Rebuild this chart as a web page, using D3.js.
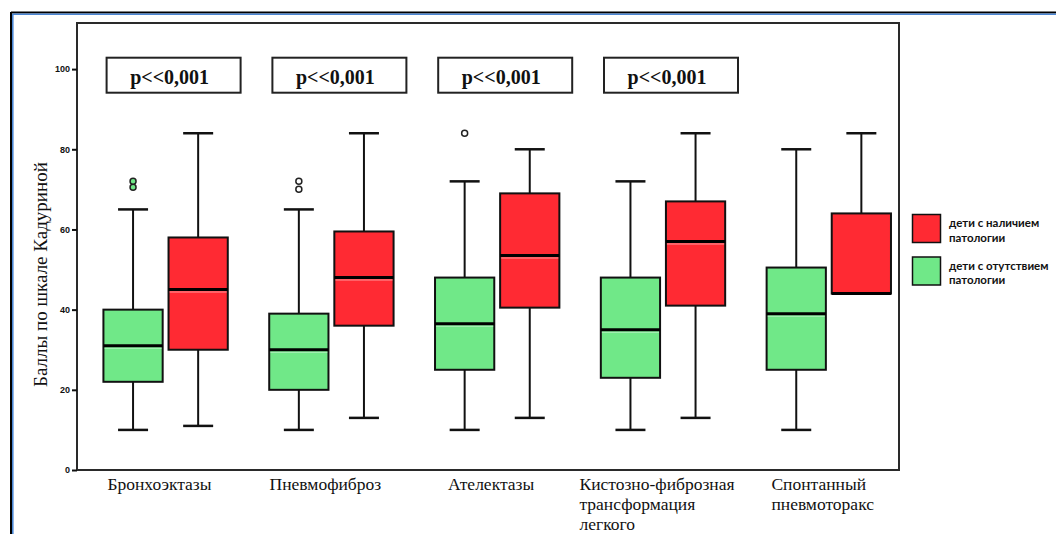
<!DOCTYPE html>
<html>
<head>
<meta charset="utf-8">
<script src="https://cdn.jsdelivr.net/npm/d3@7"></script>
<style>
  html, body { margin: 0; padding: 0; background: #fff; overflow: hidden; }
  svg { display: block; }
</style>
</head>
<body>
<svg id="chart" width="1056" height="534"></svg>
<script>
// ---- data ----
const categories = ["Бронхоэктазы", "Пневмофиброз", "Ателектазы",
  "Кистозно-фиброзная трансформация легкого", "Спонтанный пневмоторакс"];
const categoryLines = [
  ["Бронхоэктазы"],
  ["Пневмофиброз"],
  ["Ателектазы"],
  ["Кистозно-фиброзная", "трансформация", "легкого"],
  ["Спонтанный", "пневмоторакс"]
];
const seriesKeys = ["absent", "present"];
const legendLabels = {
  present: ["дети с наличием", "патологии"],
  absent: ["дети с отутствием", "патологии"]
};
// [min whisker, Q1, median, Q3, max whisker]
const absentStats = [
  [10, 22, 31, 40, 65],
  [10, 20, 30, 39, 65],
  [10, 25, 36.5, 48, 72],
  [10, 23, 35, 48, 72],
  [10, 25, 39, 50.5, 80]
];
const presentStats = [
  [11, 30, 45, 58, 84],
  [13, 36, 48, 59.5, 84],
  [13, 40.5, 53.5, 69, 80],
  [13, 41, 57, 67, 84],
  [44, 44, 44, 64, 84]
];
const absentOutliers = [[70.5, 72], [70, 72], [84], [], []];
const presentOutliers = [[], [], [], [], []];
const pLabels = ["p<<0,001", "p<<0,001", "p<<0,001", "p<<0,001", null];
const yTicks = [0, 20, 40, 60, 80, 100];
const yTitle = "Баллы по шкале Кадуриной";

// ---- layout ----
const svg = d3.select("#chart");
const frame = { left: 77, top: 23, right: 899, bottom: 470 };
const colors = { present: "#ff2a33", absent: "#70e888" };
const serif = "'Liberation Serif', 'Times New Roman', serif";

const y = d3.scaleLinear().domain([0, 111.5]).range([frame.bottom, frame.top]);
const x = d3.scaleBand().domain(categories).range([82.7, 911.7])
  .paddingInner(0.25).paddingOuter(0.125);
const xs = d3.scaleBand().domain(seriesKeys).range([0, x.bandwidth()]).paddingInner(0.09);

// outer page border
const border = svg.append("g");
border.append("line").attr("x1", 11).attr("x2", 1056).attr("y1", 12.5).attr("y2", 12.5)
  .attr("stroke", "#000").attr("stroke-width", 2);
border.append("line").attr("x1", 12.5).attr("x2", 1056).attr("y1", 14.3).attr("y2", 14.3)
  .attr("stroke", "#4a86d4").attr("stroke-width", 1.6);
border.append("line").attr("y1", 12).attr("y2", 534).attr("x1", 11).attr("x2", 11)
  .attr("stroke", "#000").attr("stroke-width", 2);
border.append("line").attr("y1", 14).attr("y2", 534).attr("x1", 12.8).attr("x2", 12.8)
  .attr("stroke", "#4a86d4").attr("stroke-width", 1.6);

// plot frame
svg.append("rect")
  .attr("x", frame.left).attr("y", frame.top)
  .attr("width", frame.right - frame.left).attr("height", frame.bottom - frame.top)
  .attr("fill", "none").attr("stroke", "#2a2a2a").attr("stroke-width", 2);

// y axis
const yAxis = svg.append("g")
  .attr("transform", `translate(${frame.left},0)`)
  .call(d3.axisLeft(y).tickValues(yTicks).tickSize(5).tickPadding(2));
yAxis.select(".domain").remove();
yAxis.selectAll(".tick line").attr("stroke", "#111").attr("stroke-width", 2);
yAxis.selectAll(".tick text")
  .attr("fill", "#111")
  .style("font-family", "'Liberation Sans', Arial, sans-serif")
  .style("font-size", "9px").style("font-weight", "bold");

// y title
svg.append("text")
  .attr("transform", `translate(47,${(y(0) + y(100)) / 2 + 5}) rotate(-90)`)
  .attr("text-anchor", "middle")
  .style("font-family", serif).style("font-size", "19px").attr("fill", "#111")
  .text(yTitle);

// boxes
const statsBySeries = { absent: absentStats, present: presentStats };
const outliersBySeries = { absent: absentOutliers, present: presentOutliers };
const capWidth = 30;
const plot = svg.append("g");

categories.forEach((cat, i) => {
  seriesKeys.forEach(key => {
    const [lo, q1, med, q3, hi] = statsBySeries[key][i];
    const x0 = x(cat) + xs(key);
    const bw = xs.bandwidth();
    const cx = x0 + bw / 2;
    const g = plot.append("g");
    // whiskers
    if (hi > q3) {
      g.append("line").attr("x1", cx).attr("x2", cx).attr("y1", y(hi)).attr("y2", y(q3))
        .attr("stroke", "#111").attr("stroke-width", 2);
      g.append("line").attr("x1", cx - capWidth / 2).attr("x2", cx + capWidth / 2)
        .attr("y1", y(hi)).attr("y2", y(hi)).attr("stroke", "#111").attr("stroke-width", 2.5);
    }
    if (lo < q1) {
      g.append("line").attr("x1", cx).attr("x2", cx).attr("y1", y(q1)).attr("y2", y(lo))
        .attr("stroke", "#111").attr("stroke-width", 2);
      g.append("line").attr("x1", cx - capWidth / 2).attr("x2", cx + capWidth / 2)
        .attr("y1", y(lo)).attr("y2", y(lo)).attr("stroke", "#111").attr("stroke-width", 2.5);
    }
    // box
    g.append("rect").attr("x", x0).attr("y", y(q3)).attr("width", bw).attr("height", y(q1) - y(q3))
      .attr("fill", colors[key]).attr("stroke", "#111").attr("stroke-width", 2);
    // soft highlight under the median
    g.append("line").attr("x1", x0 + 1).attr("x2", x0 + bw - 1)
      .attr("y1", y(med) + 2.5).attr("y2", y(med) + 2.5)
      .attr("stroke", "#fff").attr("stroke-opacity", 0.35).attr("stroke-width", 1.5);
    // median
    g.append("line").attr("x1", x0).attr("x2", x0 + bw).attr("y1", y(med)).attr("y2", y(med))
      .attr("stroke", "#000").attr("stroke-width", 3);
    // outliers
    outliersBySeries[key][i].forEach(v => {
      g.append("circle").attr("cx", cx).attr("cy", y(v)).attr("r", 3)
        .attr("fill", i === 0 ? colors[key] : "#fff")
        .attr("stroke", "#222").attr("stroke-width", 1.5);
    });
  });

  // category label, block centred on the group, lines left-aligned
  const lbl = svg.append("text")
    .style("font-family", serif).style("font-size", "17.5px").attr("fill", "#111");
  categoryLines[i].forEach((line, k) => {
    lbl.append("tspan").attr("x", 0).attr("y", 490 + k * 20).text(line);
  });
  const w = lbl.node().getBBox().width;
  lbl.attr("transform", `translate(${x(cat) + x.bandwidth() / 2 - 6 - w / 2},0)`);

  // significance box
  if (pLabels[i]) {
    const pc = x(cat) + x.bandwidth() / 2 + 8;
    const pw = 134, ph = 35;
    svg.append("rect").attr("x", pc - pw / 2).attr("y", 57.7).attr("width", pw).attr("height", ph)
      .attr("fill", "#fff").attr("stroke", "#222").attr("stroke-width", 2);
    svg.append("text").attr("x", pc - 4).attr("y", 84)
      .attr("text-anchor", "middle")
      .style("font-family", serif).style("font-size", "20px").style("font-weight", "bold")
      .attr("fill", "#111").text(pLabels[i]);
  }
});

// legend
const legendOrder = ["present", "absent"];
const legend = svg.append("g").attr("transform", "translate(912,214)");
legendOrder.forEach((key, k) => {
  const g = legend.append("g").attr("transform", `translate(0,${k * 42.5})`);
  g.append("rect").attr("x", 0.5).attr("y", 0.5).attr("width", 28).attr("height", 28)
    .attr("fill", colors[key]).attr("stroke", "#111").attr("stroke-width", 1.5);
  legendLabels[key].forEach((line, j) => {
    g.append("text").attr("x", 37).attr("y", 13 + j * 14.5)
      .style("font-family", "Lato, 'Open Sans', sans-serif").style("font-size", "11.5px")
      .style("font-weight", "bold").attr("fill", "#111").text(line);
  });
});
</script>
</body>
</html>
